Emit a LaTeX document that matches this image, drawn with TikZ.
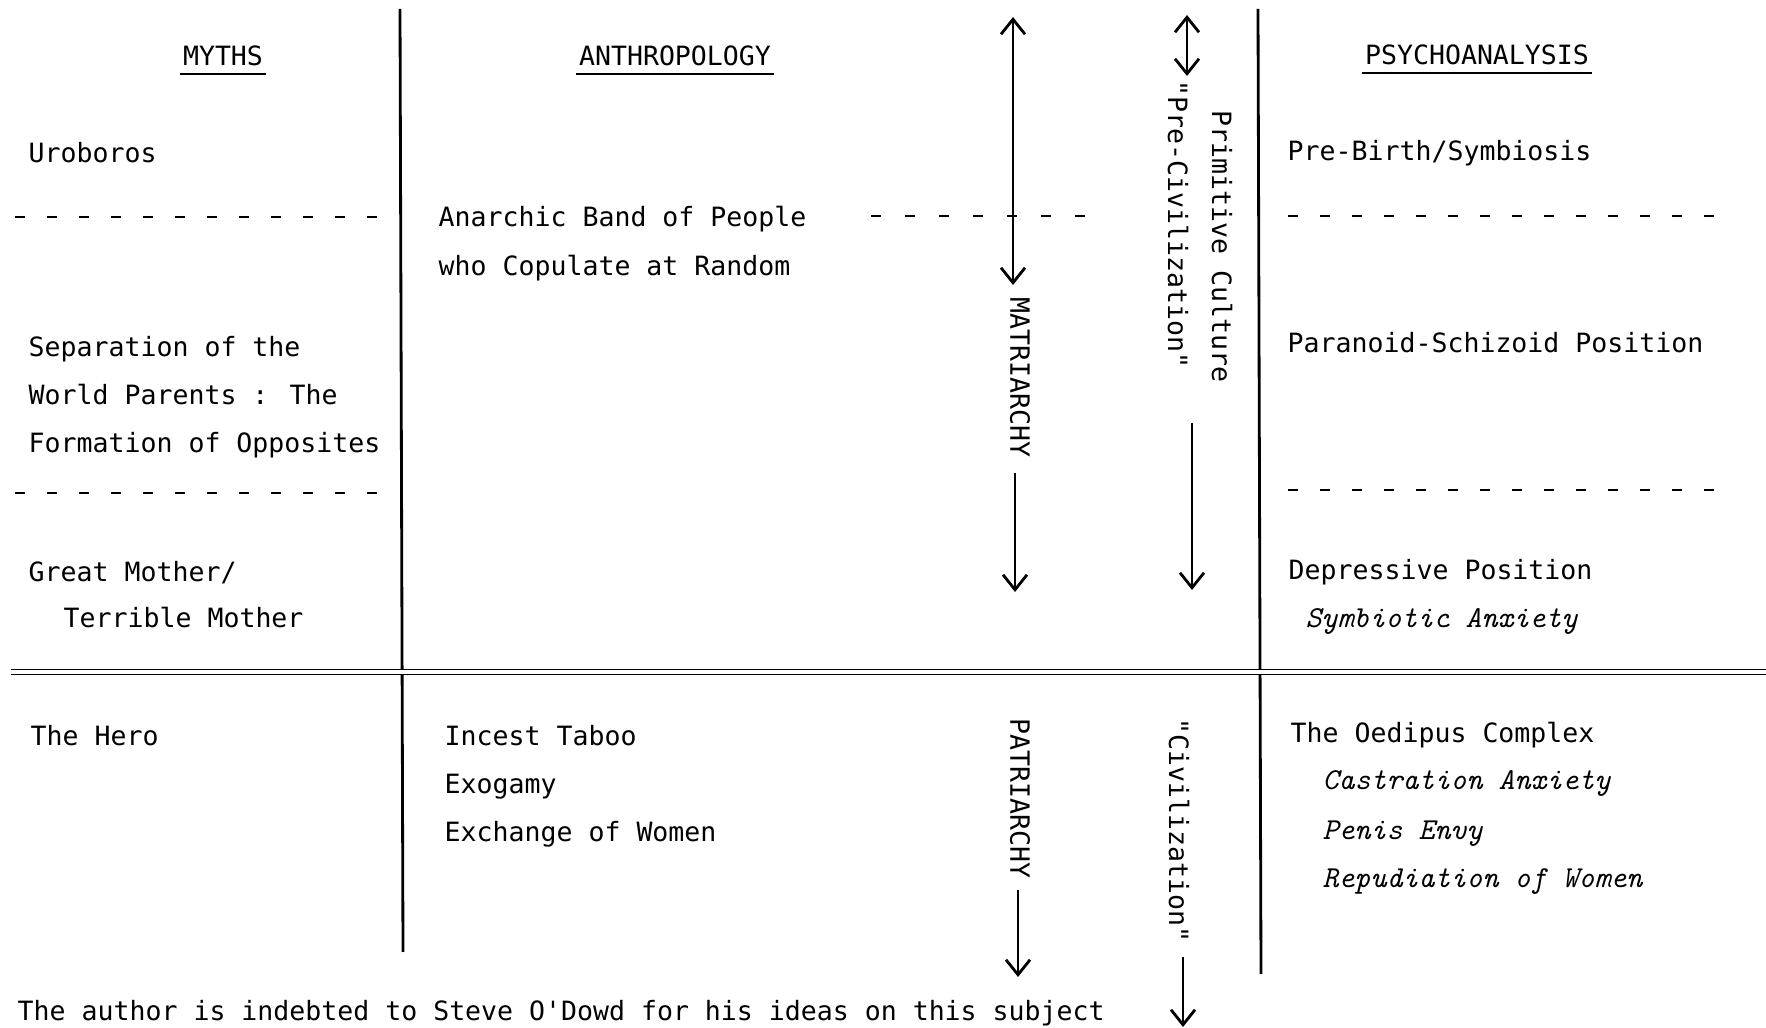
\documentclass[tikz,border=0pt]{standalone}
\usepackage{fontspec}
\usepackage{tikz}
\usetikzlibrary{arrows.meta}
\newfontfamily\typewr{DejaVu Sans Mono}

\begin{document}
\begin{tikzpicture}[x=0.01cm,y=-0.01cm,
    txt/.style={anchor=base west,inner sep=0pt,font=\fontsize{7.55}{9}\typewr},
    slant/.style={anchor=base west,inner sep=0pt,font=\fontsize{8.66}{10}\ttfamily\itshape},
    head/.style={anchor=base,inner sep=0pt,font=\fontsize{7.55}{9}\typewr},
    sideways/.style={anchor=west,inner sep=0pt,rotate=-90,font=\fontsize{7.55}{9}\typewr},
    rule/.style={line width=0.8pt},
    dashrule/.style={line width=0.8pt,dash pattern=on 0.1cm off 0.22cm},
    tip/.tip={Straight Barb[length=0.15cm,width=0.24cm,line width=0.8pt]},
    arr/.style={line width=0.5pt,-tip},
    darr/.style={line width=0.5pt,tip-tip}
]
\useasboundingbox (0,0) rectangle (1766,1028);

\draw[rule] (400,9) -- (403,952);
\draw[rule] (1258,9) -- (1261,974);
\draw[line width=0.45pt,double,double distance=1pt] (11,672) -- (1766,672);

\draw[dashrule] (15,217) -- (377,217);
\draw[dashrule] (15,493) -- (377,493);
\draw[dashrule,dash pattern=on 0.1cm off 0.24cm] (871,216) -- (1090,216);
\draw[dashrule] (1288,216) -- (1725,216);
\draw[dashrule] (1288,490) -- (1725,490);

\node[head] (myths) at (223,66) {MYTHS};
\node[head] (anthro) at (675,66) {ANTHROPOLOGY};
\node[head] (psycho) at (1477,65) {PSYCHOANALYSIS};
\foreach \h in {myths,anthro,psycho}
    \draw[line width=0.8pt] ([xshift=-0.02cm,yshift=-0.08cm]\h.base west) -- ([xshift=0.02cm,yshift=-0.08cm]\h.base east);

\node[txt] (uroboros) at (28,163) {Uroboros};
\node[txt] (separ1) at (28,357) {Separation of the};
\node[txt] (separ2) at (28,405) {World Parents : The};
\node[txt] (separ3) at (28,453) {Formation of Opposites};
\node[txt] (mother1) at (28,582) {Great Mother/};
\node[txt] (mother2) at (63,628) {Terrible Mother};
\node[txt] (hero) at (30,746) {The Hero};

\node[txt] (band1) at (438,227) {Anarchic Band of People};
\node[txt] (band2) at (438,276) {who Copulate at Random};
\node[txt] (incest) at (444,746) {Incest Taboo};
\node[txt] (exogamy) at (444,794) {Exogamy};
\node[txt] (exchange) at (444,842) {Exchange of Women};

\node[txt] (prebirth) at (1287,161) {Pre-Birth/Symbiosis};
\node[txt] (paranoid) at (1287,353) {Paranoid-Schizoid Position};
\node[txt] (depress) at (1288,580) {Depressive Position};
\node[slant] (symbio) at (1305,628) {Symbiotic Anxiety};
\node[txt] (oedipus) at (1290,743) {The Oedipus Complex};
\node[slant] (castr) at (1322,790) {Castration Anxiety};
\node[slant] (penis) at (1322,840) {Penis Envy};
\node[slant] (repud) at (1322,888) {Repudiation of Women};

\node[sideways] (matri) at (1020,297) {MATRIARCHY};
\node[sideways] (patri) at (1020,718) {PATRIARCHY};
\node[sideways] (primit) at (1222,110) {Primitive Culture};
\node[sideways] (precivil) at (1178,80) {"Pre-Civilization"};
\node[sideways] (civil) at (1179,718) {"Civilization"};

\coordinate (matritop) at (1013,17);
\coordinate (matribot) at (1013,285);
\coordinate (matriend) at (1015,592);
\coordinate (primtop) at (1187,15);
\coordinate (primbot) at (1187,76);
\coordinate (precivend) at (1192,590);
\coordinate (patriend) at (1018,977);
\coordinate (civilend) at (1183,1027);

\draw[darr] (matritop) -- (matribot);
\draw[arr] (matriend |- 0,473) -- (matriend);
\draw[darr] (primtop) -- (primbot);
\draw[arr] (precivend |- 0,423) -- (precivend);
\draw[arr] (patriend |- 0,890) -- (patriend);
\draw[arr] (civilend |- 0,957) -- (civilend);

\node[txt] (thanks) at (17,1021) {The author is indebted to Steve O'Dowd for his ideas on this subject};
\end{tikzpicture}
\end{document}
